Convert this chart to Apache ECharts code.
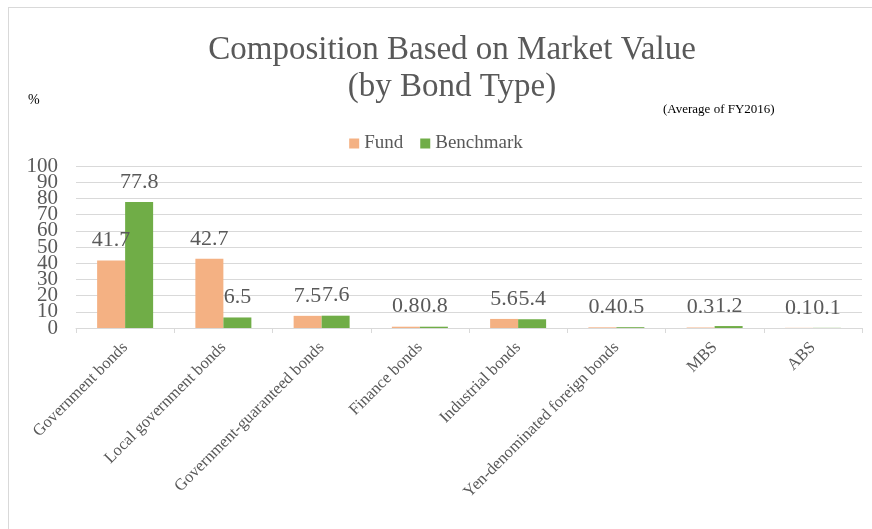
<!DOCTYPE html>
<html>
<head>
<meta charset="utf-8">
<script src="https://cdn.jsdelivr.net/npm/echarts@6/dist/echarts.min.js"></script>
<style>
  html, body { margin: 0; padding: 0; background: #fff; }
  #frame { position: absolute; left: 8px; top: 7px; width: 900px; height: 560px; border: 1px solid #d9d9d9; }
  #chart { position: absolute; left: 0; top: 0; width: 872px; height: 529px; }
</style>
</head>
<body>
<div id="frame"></div>
<div id="chart"></div>
<script>
var categories = ["Government bonds", "Local government bonds", "Government-guaranteed bonds", "Finance bonds", "Industrial bonds", "Yen-denominated foreign bonds", "MBS", "ABS"];
var fund = [41.7, 42.7, 7.5, 0.8, 5.6, 0.4, 0.3, 0.1];
var benchmark = [77.8, 6.5, 7.6, 0.8, 5.4, 0.5, 1.2, 0.1];

var serif = "'Liberation Serif', 'Times New Roman', serif";
var grey = "#595959";

// labels are tightly packed like in Excel, so the ends go on a second axis
// to keep echarts from dropping the neighbours of 0 and 100
function yAxisFor(showEnds) {
  return {
    type: "value",
    position: "left",
    min: 0,
    max: 100,
    interval: 10,
    axisLine: { show: false },
    axisTick: { show: false },
    splitLine: { show: !showEnds, lineStyle: { color: "#d9d9d9", width: 1 } },
    axisLabel: {
      margin: 18,
      fontFamily: serif,
      fontSize: 21,
      color: grey,
      hideOverlap: false,
      formatter: function (v) {
        var isEnd = v === 0 || v === 100;
        return isEnd === showEnds ? String(v) : "";
      },
    },
  };
}

var myChart = echarts.init(document.getElementById("chart"));
var option = {
  backgroundColor: "transparent",
  animation: false,
  title: {
    text: "Composition Based on Market Value\n(by Bond Type)",
    left: 447,
    top: 27,
    textAlign: "center",
    textStyle: {
      fontFamily: serif,
      fontWeight: "normal",
      fontSize: 33,
      lineHeight: 37,
      color: grey,
    },
  },
  legend: {
    data: ["Fund", "Benchmark"],
    left: "center",
    top: 129,
    itemWidth: 10,
    itemHeight: 10,
    itemGap: 17,
    icon: "rect",
    textStyle: {
      fontFamily: serif,
      fontSize: 19,
      color: grey,
    },
  },
  graphic: [
    {
      type: "text",
      left: 28,
      top: 93,
      style: { text: "%", fontFamily: serif, fontSize: 14, fill: "#000" },
    },
    {
      type: "text",
      left: 663,
      top: 103,
      style: { text: "(Average of FY2016)", fontFamily: serif, fontSize: 13, fill: "#000" },
    },
  ],
  grid: {
    left: 76,
    right: 10,
    top: 166,
    bottom: 201,
  },
  xAxis: [
    {
      type: "category",
      data: categories,
      axisLine: { lineStyle: { color: "#d9d9d9" } },
      axisTick: { show: true, length: 5, lineStyle: { color: "#d9d9d9" } },
      axisLabel: {
        interval: 0,
        rotate: 45,
        margin: 17,
        fontFamily: serif,
        fontSize: 16.5,
        color: grey,
      },
    },
  ],
  yAxis: [yAxisFor(false), yAxisFor(true)],
  series: [
    {
      name: "Fund",
      type: "bar",
      data: fund,
      barGap: "0%",
      barCategoryGap: "43%",
      itemStyle: { color: "#F4B183" },
      label: {
        show: true,
        position: "top",
        distance: 9,
        fontFamily: serif,
        fontSize: 22,
        color: grey,
      },
    },
    {
      name: "Benchmark",
      type: "bar",
      data: benchmark,
      itemStyle: { color: "#70AD47" },
      label: {
        show: true,
        position: "top",
        distance: 9,
        fontFamily: serif,
        fontSize: 22,
        color: grey,
      },
    },
  ],
};
myChart.setOption(option);
</script>
</body>
</html>
